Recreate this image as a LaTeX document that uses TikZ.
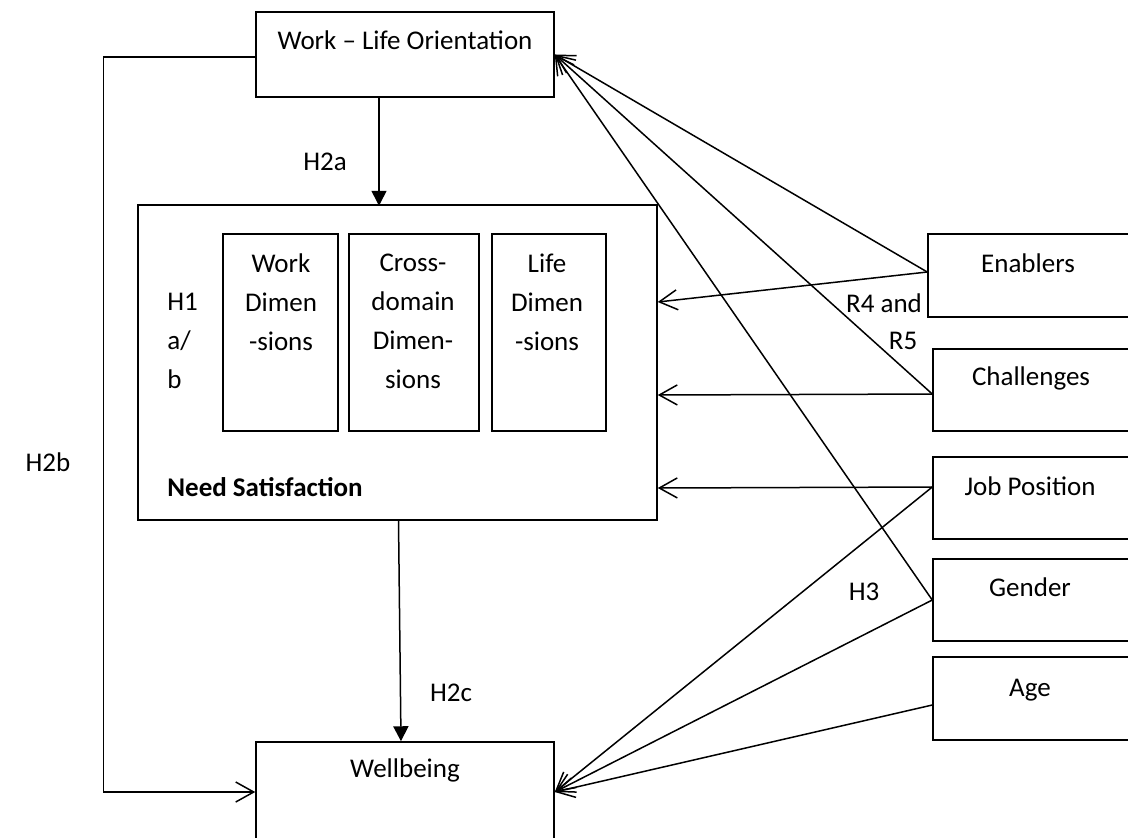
\documentclass[tikz,border=0pt]{standalone}
\usepackage{fontspec}
\setmainfont{Carlito}
\usetikzlibrary{arrows.meta}
\begin{document}
\begin{tikzpicture}[x=0.5pt,y=-0.5pt,
  box/.style={draw, line width=0.75pt, inner sep=0pt},
  txt/.style={font=\fontsize{13.5pt}{19.5pt}\selectfont, inner sep=0pt, align=center},
  link/.style={line width=0.75pt, -{Straight Barb[length=9pt,width=10pt]}},
  main/.style={line width=0.75pt, -{Triangle[length=7.5pt,width=7.5pt]}},
]
\useasboundingbox (0,0) rectangle (1128,837);
\clip (0,0) rectangle (1128,837);

% boxes
\node[box, minimum width=149pt, minimum height=42.5pt] (wlo) at (405,54.5) {};
\node[box, minimum width=259.5pt, minimum height=157.5pt] (ns) at (397.5,362.5) {};
\node[box, minimum width=57.5pt, minimum height=98.5pt] (workd) at (280.5,332.5) {};
\node[box, minimum width=65pt, minimum height=98.5pt] (crossd) at (414,332.5) {};
\node[box, minimum width=57pt, minimum height=98.5pt] (lifed) at (549,332.5) {};
\node[box, minimum width=149pt, minimum height=50pt] (wb) at (405,792) {};
\node[box, minimum width=106pt, minimum height=41.5pt] (enab) at (1034,275.5) {};
\node[box, minimum width=103.5pt, minimum height=41pt] (chal) at (1036.5,390) {};
\node[box, minimum width=103.5pt, minimum height=41pt] (job) at (1036.5,498) {};
\node[box, minimum width=103.5pt, minimum height=41pt] (gen) at (1036.5,600) {};
\node[box, minimum width=103.5pt, minimum height=41.5pt] (age) at (1036.5,698.5) {};

% box texts
\node[txt] (wlot) at (405,40) {Work – Life Orientation};
\node[txt] (workt) at (281,302) {Work\\Dimen\\-sions};
\node[txt] (crosst) at (413,321) {Cross-\\domain\\Dimen-\\sions};
\node[txt] (lifet) at (547,302) {Life\\Dimen\\-sions};
\node[txt, anchor=west, align=left] (h1) at (167,341) {H1\\a/\\b};
\node[txt, anchor=west, font=\fontsize{13.5pt}{19.5pt}\selectfont\bfseries] (nst) at (167,487) {Need Satisfaction};
\node[txt] (wbt) at (405,770) {Wellbeing};
\node[txt] (enabt) at (1028,263) {Enablers};
\node[txt] (chalt) at (1031,378) {Challenges};
\node[txt] (jobt) at (1030,486) {Job Position};
\node[txt] (gent) at (1030,587) {Gender};
\node[txt] (aget) at (1030,690) {Age};

% hypothesis labels
\node[txt] (h2a) at (325,162) {H2a};
\node[txt] (h2b) at (48,462) {H2b};
\node[txt] (h2c) at (451,693) {H2c};
\node[txt] (h3) at (864,592) {H3};
\node[txt] (r4) at (884,303) {R4 and};
\node[txt] (r5) at (903,341) {R5};

% main paths
\draw[main] ([xshift=-13pt]wlo.south) -- ++(0,108);
\draw[main] ([xshift=0.5pt]ns.south) -- ([xshift=-2pt]wb.north);
\draw[link] ([yshift=-1.25pt]wlo.west) -- ++(-152,0) |- (wb.west);

% antecedents and controls
\draw[link] ([yshift=1.75pt]enab.west) -- (wlo.east);
\draw[link] ([yshift=1.75pt]enab.west) -- ([yshift=30.25pt]ns.east);
\draw[link] ([yshift=-2pt]chal.west) -- (wlo.east);
\draw[link] ([yshift=-2pt]chal.west) -- ([yshift=-16.25pt]ns.east);
\draw[link] ([yshift=5.5pt]job.west) -- ([yshift=-62.75pt]ns.east);
\draw[link] ([yshift=5.5pt]job.west) -- (wb.east);
\draw[link] (gen.west) -- (wlo.east);
\draw[link] (gen.west) -- (wb.east);
\draw[link] ([yshift=-3.25pt]age.west) -- (wb.east);
\end{tikzpicture}
\end{document}
